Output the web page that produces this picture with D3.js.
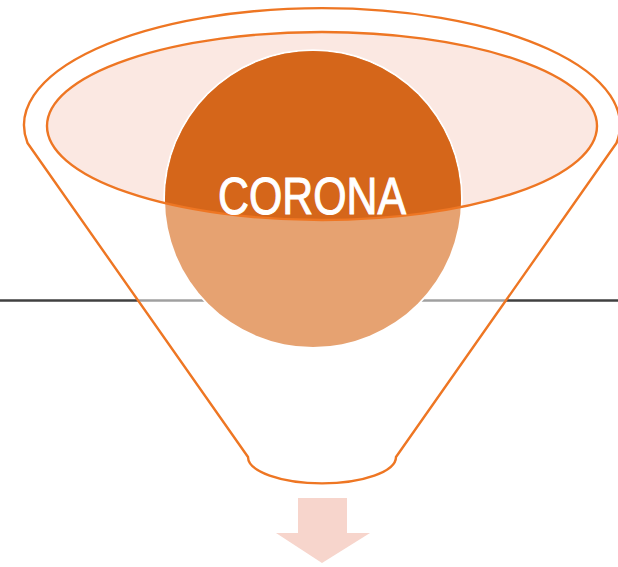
<!DOCTYPE html>
<html>
<head>
<meta charset="utf-8">
<script src="https://cdn.jsdelivr.net/npm/d3@7"></script>
<style>
  html, body { margin: 0; padding: 0; background: #fff; }
  svg { display: block; }
</style>
</head>
<body>
<svg id="chart" width="618" height="567"></svg>
<script>
// diagram content
const labels = ['CORONA'];
const colors = { stroke: '#EE7623', top: '#D5661A', bottom: '#E6A271', rim: '#FBE8E2', arrow: '#F7D5CC', line: '#404040' };

const svg = d3.select('#chart');
const cx = 322; // funnel axis

// horizontal rule behind the funnel
svg.append('line')
    .attr('x1', 0).attr('x2', 618)
    .attr('y1', 300.5).attr('y2', 300.5)
    .attr('stroke', colors.line)
    .attr('stroke-width', 2.6);

// funnel outline: top ellipse, straight sides, rounded bottom
svg.append('path')
    .attr('d', `M27.5,143 A298,117 0 1 1 616.5,143 L396,457 A73,26 0 0 1 248,457 Z`)
    .attr('fill', 'rgba(255,255,255,0.5)')
    .attr('stroke', colors.stroke)
    .attr('stroke-width', 2.4)
    .attr('stroke-linejoin', 'round');

// inner rim ellipse
svg.append('ellipse')
    .attr('cx', cx).attr('cy', 126)
    .attr('rx', 275).attr('ry', 94)
    .attr('fill', colors.rim);

svg.append('clipPath').attr('id', 'rimClip')
    .append('ellipse')
    .attr('cx', cx).attr('cy', 126)
    .attr('rx', 275).attr('ry', 94);

// the ball in the funnel
const ball = { x: 313, y: 199, r: 148 };
svg.append('circle')
    .attr('cx', ball.x).attr('cy', ball.y).attr('r', ball.r + 1.8)
    .attr('fill', '#fff');
svg.append('circle')
    .attr('cx', ball.x).attr('cy', ball.y).attr('r', ball.r)
    .attr('fill', colors.bottom);
svg.append('circle')
    .attr('clip-path', 'url(#rimClip)')
    .attr('cx', ball.x).attr('cy', ball.y).attr('r', ball.r)
    .attr('fill', colors.top);

// rim outline on top
svg.append('ellipse')
    .attr('cx', cx).attr('cy', 126)
    .attr('rx', 275).attr('ry', 94)
    .attr('fill', 'none')
    .attr('stroke', colors.stroke)
    .attr('stroke-width', 2.4);

svg.selectAll('text.label')
    .data(labels)
    .enter().append('text')
    .attr('class', 'label')
    .attr('x', 312).attr('y', 214)
    .attr('text-anchor', 'middle')
    .attr('font-family', 'Liberation Sans, Arial, sans-serif')
    .attr('font-size', 51)
    .attr('textLength', 188)
    .attr('lengthAdjust', 'spacingAndGlyphs')
    .attr('fill', '#fff')
    .attr('stroke', '#fff')
    .attr('stroke-width', 1)
    .text(d => d);

// down arrow below the funnel
const arrow = d3.path();
arrow.moveTo(298, 498);
arrow.lineTo(347, 498);
arrow.lineTo(347, 533);
arrow.lineTo(370, 533);
arrow.lineTo(322, 563);
arrow.lineTo(276, 533);
arrow.lineTo(298, 533);
arrow.closePath();
svg.append('path')
    .attr('d', arrow.toString())
    .attr('fill', colors.arrow);
</script>
</body>
</html>
